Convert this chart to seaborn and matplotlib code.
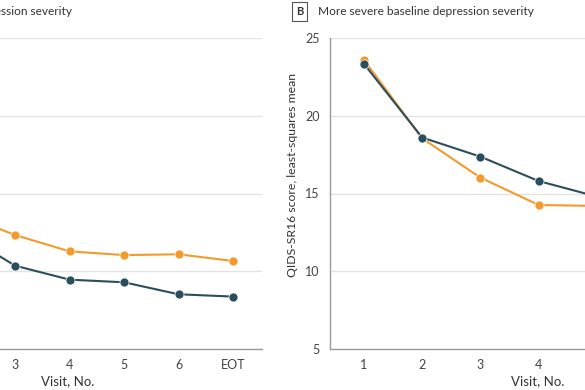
import pandas as pd
import matplotlib
matplotlib.use("Agg")
import matplotlib.pyplot as plt
import seaborn as sns

# ===== DONNEES =====
visit_pos = [1, 2, 3, 4, 5, 6, 7]
visit_labels = ["1", "2", "3", "4", "5", "6", "EOT"]

# Panel A (less severe) - visible part only
a_visits = [2, 3, 4, 5, 6, 7]
a_orange = [13.7, 12.33, 11.28, 11.04, 11.09, 10.66]
a_dark = [12.5, 10.36, 9.46, 9.29, 8.52, 8.37]

# Panel B (more severe) - visible part only
b_visits = [1, 2, 3, 4, 5]
b_orange = [23.6, 18.55, 16.02, 14.26, 14.2]
b_dark = [23.35, 18.6, 17.37, 15.8, 14.8]

groups = ["Group 1", "Group 2"]
colors = {"Group 1": "#F39A2A", "Group 2": "#2B4E5C"}

df_a = pd.DataFrame({
    "visit": a_visits * 2,
    "score": a_orange + a_dark,
    "group": [groups[0]] * len(a_visits) + [groups[1]] * len(a_visits),
})
df_b = pd.DataFrame({
    "visit": b_visits * 2,
    "score": b_orange + b_dark,
    "group": [groups[0]] * len(b_visits) + [groups[1]] * len(b_visits),
})

# ===== STYLE =====
sns.set_style("white")
plt.rcParams["font.family"] = ["Lato", "DejaVu Sans"]

fig = plt.figure(figsize=(5.85, 3.9), dpi=100)
W, H = 585.0, 390.0

# axes placed so that the figure shows only a window of the two panels
ax_a = fig.add_axes([-125.6 / W, 1 - 349 / H, 387.5 / W, 311 / H])
ax_b = fig.add_axes([330 / W, 1 - 349 / H, 414.5 / W, 311 / H])

for ax, df, letter, title, axw in [
    (ax_a, df_a, "A", "Less severe baseline depression severity", 387.5),
    (ax_b, df_b, "B", "More severe baseline depression severity", 414.5),
]:
    ax.set_ylim(5, 25)
    ax.set_xlim(0.42, 7.53)
    ax.set_yticks([5, 10, 15, 20, 25])
    ax.set_xticks(visit_pos)
    ax.set_xticklabels(visit_labels)
    ax.yaxis.grid(True, color="#e2e2e2", linewidth=1)
    ax.set_axisbelow(True)

    sns.lineplot(data=df, x="visit", y="score", hue="group", palette=colors,
                 marker="o", markersize=6.5, markeredgecolor="white",
                 markeredgewidth=0.5, linewidth=1.5, legend=False, ax=ax,
                 clip_on=False)

    for side in ["top", "right"]:
        ax.spines[side].set_visible(False)
    for side in ["left", "bottom"]:
        ax.spines[side].set_color("#9a9a9a")
        ax.spines[side].set_linewidth(1)
    ax.tick_params(axis="both", direction="out", length=4, width=1,
                   color="#9a9a9a", labelsize=9, labelcolor="#444444", pad=3.5)

    ax.set_xlabel("Visit, No.", fontsize=9.5, color="#333333", labelpad=3)
    ax.set_ylabel("QIDS-SR16 score, least-squares mean", fontsize=8.8,
                  color="#333333")
    ax.yaxis.set_label_coords(-32 / axw, 0.56)

    # panel letter box + title
    ax.text(-34 / axw, 1.085, letter, transform=ax.transAxes,
            fontsize=8, fontweight="bold", color="#333333", ha="left", va="center",
            bbox=dict(boxstyle="square,pad=0.35", fc="white", ec="#555555", lw=0.8))
    ax.text(-12 / axw, 1.085, title, transform=ax.transAxes, fontsize=8.6,
            color="#333333", ha="left", va="center")

fig.savefig("out.png", dpi=100)
